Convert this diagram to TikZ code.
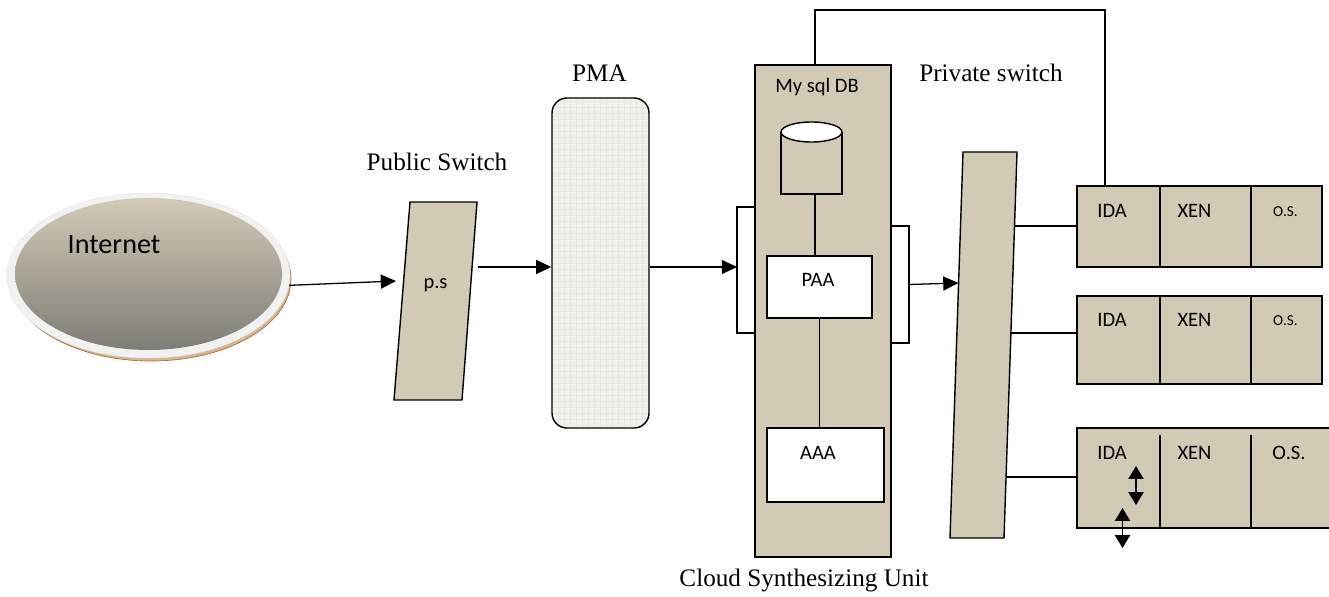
\documentclass[tikz,border=0pt]{standalone}
\usepackage{fontspec}
\setmainfont{Liberation Serif}
\newfontfamily\calibrifont{Carlito}
\usetikzlibrary{arrows.meta,positioning,shapes.geometric}
\definecolor{khaki}{RGB}{211,202,182}
\definecolor{ringgrey}{RGB}{241,241,241}
\definecolor{rimtan}{RGB}{214,182,146}
\definecolor{rimbrown}{RGB}{165,115,65}
\definecolor{pmafill}{RGB}{243,241,236}
\definecolor{pmagrid}{RGB}{232,230,223}

\begin{document}
\begin{tikzpicture}[x=0.03cm,y=-0.03cm,
    >={Triangle[length=13pt,width=12pt]},
    box/.style={draw,fill=khaki,line width=1.2pt,inner sep=0pt,outer sep=0pt},
    wbox/.style={draw,fill=white,line width=1.2pt,inner sep=0pt,outer sep=0pt},
    link/.style={line width=1.1pt},
    updown/.style={line width=1.1pt,{Triangle[length=11pt,width=13pt]}-{Triangle[length=11pt,width=13pt]}},
    title/.style={font=\fontsize{21.5}{24}\selectfont},
    lab/.style={font=\calibrifont\fontsize{17.5}{20}\selectfont},
    small/.style={font=\calibrifont\fontsize{13}{15}\selectfont}]
  \useasboundingbox (0,0) rectangle (1329,597);

  % nuvola Internet: bordo marrone, anello chiaro, interno sfumato
  \filldraw[fill=rimtan,draw=rimbrown,line width=0.6pt] (151,279) ellipse (140 and 82);
  \node[ellipse,fill=ringgrey,draw=black!10,minimum width=8.49cm,minimum height=4.95cm] (inet) at (148.5,275.5) {};
  \shade[top color=khaki,bottom color=black!60!khaki!75] (148.5,274) ellipse (133.5 and 76);
  \node[font=\calibrifont\fontsize{24}{28}\selectfont] (inettxt) at (114,245) {Internet};

  % switch pubblico
  \draw[box] (410,202) -- (477,202) -- (462,400) -- (394,400) -- cycle;
  \coordinate (psin) at (396,281);
  \coordinate (psout) at (478,267);
  \node[lab] (pstxt) at (435.5,285) {p.s};
  \node[title] (pstitle) at (437,162) {Public Switch};

  % PMA
  \node[draw,fill=pmafill,line width=1.2pt,rounded corners=0.45cm,minimum width=2.91cm,minimum height=9.9cm,
    path picture={\draw[pmagrid,line width=0.3pt,step=0.18cm] (path picture bounding box.south west) grid (path picture bounding box.north east);}]
    (pma) at (600.5,263) {};
  \node[title] (pmatitle) at (599.5,73) {PMA};

  % Cloud Synthesizing Unit
  \node[wbox,minimum width=0.54cm,minimum height=3.78cm] (lbr) at (746,270) {};
  \node[wbox,minimum width=0.54cm,minimum height=3.51cm] (rbr) at (900,284.5) {};
  \node[box,minimum width=4.08cm,minimum height=14.76cm] (csu) at (823,311) {};
  \node[lab] (dbtxt) at (817,87) {My sql DB};
  \filldraw[fill=khaki,line width=1.2pt] (781,132) -- (781,194) -- (842,194) -- (842,132); % cilindro
  \filldraw[fill=white,line width=1.2pt] (811.5,132) ellipse (30.5 and 10);
  \coordinate (db) at (815,194);
  \node[wbox,minimum width=3.15cm,minimum height=1.86cm] (paa) at (819.5,287) {};
  \node[lab] (paatxt) at (818,280) {PAA};
  \node[wbox,minimum width=3.51cm,minimum height=2.22cm] (aaa) at (825.5,465) {};
  \node[lab] (aaatxt) at (818,453) {AAA};
  \node[title] (csutitle) at (804,580) {Cloud Synthesizing Unit};

  % switch privato
  \draw[box] (963,152) -- (1017,152) -- (1004,538) -- (950,538) -- cycle;
  \coordinate (pswin) at (958.5,283);
  \coordinate (sw1) at (1015,226);
  \coordinate (sw2) at (1011,333);
  \coordinate (sw3) at (1006,477);
  \node[title] (pswtitle) at (991,73) {Private switch};

  % macchine virtuali
  \node[box,minimum width=2.49cm,minimum height=2.43cm] (ida1) at (1118.5,226.5) {};
  \node[box,minimum width=2.73cm,minimum height=2.43cm,right=0pt of ida1] (xen1) {};
  \node[box,minimum width=2.13cm,minimum height=2.43cm,right=0pt of xen1] (os1) {};
  \node[lab] (idatxt1) at (1112,211) {IDA};
  \node[lab] (xentxt1) at (1194.5,211) {XEN};
  \node[small] (ostxt1) at (1285.5,212) {O.S.};

  \node[box,minimum width=2.49cm,minimum height=2.64cm] (ida2) at (1118.5,340) {};
  \node[box,minimum width=2.73cm,minimum height=2.64cm,right=0pt of ida2] (xen2) {};
  \node[box,minimum width=2.13cm,minimum height=2.64cm,right=0pt of xen2] (os2) {};
  \node[lab] (idatxt2) at (1112,320) {IDA};
  \node[lab] (xentxt2) at (1194.5,320) {XEN};
  \node[small] (ostxt2) at (1285.5,321) {O.S.};

  \node[box,minimum width=8.04cm,minimum height=3cm] (vm3) at (1211,478) {};
  \draw[line width=1.2pt] (1160,435) -- (1160,528);
  \draw[line width=1.2pt] (1251,435) -- (1251,528);
  \node[lab] (idatxt3) at (1112,453) {IDA};
  \node[lab] (xentxt3) at (1194.5,453) {XEN};
  \node[lab] (ostxt3) at (1289,453) {O.S.};
  \coordinate (ua) at (1136,466);
  \coordinate (ub) at (1136,505);
  \coordinate (uc) at (1122.5,508);
  \coordinate (ud) at (1122.5,548);
  \draw[updown] (ua) -- (ub);
  \draw[updown] (uc) -- (ud);

  % collegamenti
  \draw[link,->] (inet.-4) -- (psin);
  \draw[link,->] (psout) -- (psout -| pma.west);
  \draw[link,->] (pma.east |- psout) -- (psout -| lbr.west);
  \draw[link] (db) -- (db |- paa.north);
  \draw[link] (paa.south) -- (paa.south |- aaa.north);
  \draw[link,->] (rbr.east) -- (pswin);
  \draw[link] (sw1) -- (sw1 -| ida1.west);
  \draw[link] (sw2) -- (sw2 -| ida2.west);
  \draw[link] (sw3) -- (sw3 -| vm3.west);
  \coordinate (up) at (1105,10);
  \draw[link] (db |- csu.north) |- (up) -- (up |- ida1.north); % ritorno al DB
\end{tikzpicture}
\end{document}
